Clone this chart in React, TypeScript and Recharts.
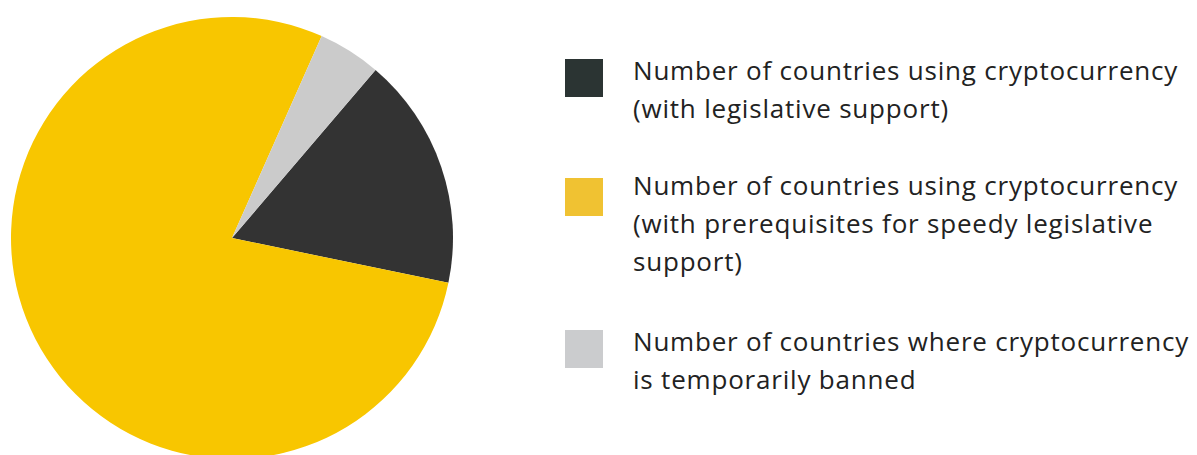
import React from 'react';
import { PieChart, Pie, Cell } from 'recharts';

// slice shares (%), in legend order
const labels = [
  ['Number of countries using cryptocurrency', '(with legislative support)'],
  ['Number of countries using cryptocurrency', '(with prerequisites for speedy legislative', 'support)'],
  ['Number of countries where cryptocurrency', 'is temporarily banned'],
];
const shares = [17.0, 78.4, 4.6];
const sliceColors = ['#333333', '#F8C600', '#CBCBCB'];
const swatchColors = ['#2B3433', '#F0C232', '#CBCCCE'];

const data = labels.map((l, i) => ({ name: l.join(' '), lines: l, value: shares[i] }));

const FONT = '"Open Sans", sans-serif';
const swatchTops = [59, 178, 330];
const textTops = [51, 166, 322];

export default function App() {
  return (
    <div style={{ position: 'absolute', left: 0, top: 0, width: 1197, height: 455, background: '#fff' }}>
      <PieChart width={1197} height={455} margin={{ top: 0, right: 0, bottom: 0, left: 0 }}>
        <Pie
          data={data}
          dataKey="value"
          nameKey="name"
          cx={232}
          cy={238}
          outerRadius={221}
          startAngle={49.5}
          endAngle={-310.5}
          stroke="none"
          isAnimationActive={false}
        >
          {data.map((d, i) => (
            <Cell key={d.name} fill={sliceColors[i]} />
          ))}
        </Pie>
      </PieChart>
      {data.map((d, i) => (
        <React.Fragment key={d.name}>
          <div
            style={{
              position: 'absolute',
              left: 565,
              top: swatchTops[i],
              width: 38,
              height: 38,
              background: swatchColors[i],
            }}
          />
          <div
            style={{
              position: 'absolute',
              left: 633,
              top: textTops[i],
              fontFamily: FONT,
              fontSize: 26,
              letterSpacing: 0.8,
              lineHeight: '38px',
              color: '#222',
            }}
          >
            {d.lines.map((t) => (
              <div key={t} style={{ whiteSpace: 'nowrap' }}>
                {t}
              </div>
            ))}
          </div>
        </React.Fragment>
      ))}
    </div>
  );
}
